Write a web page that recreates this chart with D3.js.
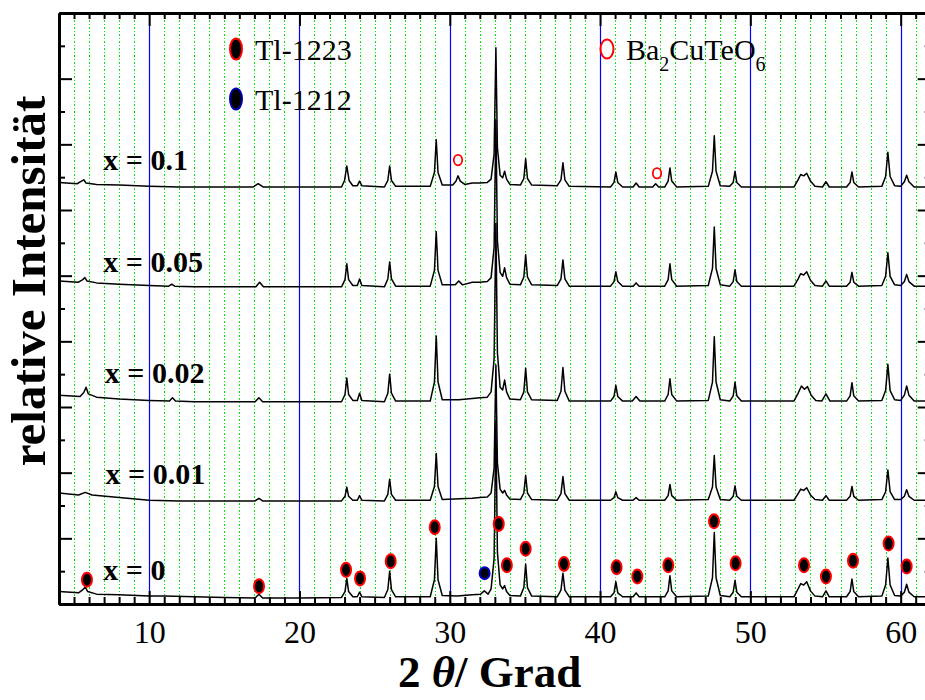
<!DOCTYPE html>
<html><head><meta charset="utf-8">
<script src="https://cdn.jsdelivr.net/npm/d3@7"></script>
<style>
body{margin:0;background:#fff}
svg{display:block}
text{font-family:"Liberation Serif","Times New Roman",Times,serif;fill:#000}
</style>
</head><body>
<svg id="chart" width="925" height="700"></svg>
<script>
// ---------------- DATA ----------------
const seriesNames   = ["x = 0", "x = 0.01", "x = 0.02", "x = 0.05", "x = 0.1"];
const seriesOffsets = [9, 157, 308, 483, 635];   // vertical stacking offset (a.u.)
const labelTheta    = [6.95, 7.1, 7.05, 6.95, 6.95];
const labelLevel    = [37, 183, 337, 506, 661];

// pattern points [2theta, intensity a.u.] relative to each series offset
const pat_x000 = [
[4.0,10],[5.3,8],[5.55,12],[5.75,17],[5.9,10],[6.5,6],[8,5],[10,3],[11,3],[15,1],[17.05,0],[17.3,6],[17.55,0],[20,0],
[22.8,1],[23.03,10],[23.15,30],[23.27,10],[23.55,2],[23.85,2],[24.0,9],[24.15,2],
[25.65,1],[25.88,13],[26.0,41],[26.12,13],[26.4,2],
[28.7,2],[28.98,28],[29.1,91],[29.22,28],[29.5,4],
[30.5,3],[31.5,5],[32.05,6],[32.3,11],[32.55,6],
[32.75,14],[32.95,60],[33.07,269],[33.17,70],[33.35,20],[33.52,14],[33.65,19],[33.78,10],[34.0,4],
[34.7,3],[34.93,16],[35.05,52],[35.17,16],[35.45,3],
[37.15,2],[37.4,12],[37.53,38],[37.66,12],[37.95,2],
[40.7,2],[40.93,8],[41.05,25],[41.18,8],[41.5,2],[42.2,2],[42.4,8],[42.6,2],
[44.3,2],[44.53,11],[44.65,34],[44.77,11],[45.1,2],
[47.2,3],[47.48,31],[47.6,100],[47.72,31],[48.0,4],
[48.63,2],[48.86,9],[48.98,27],[49.1,9],[49.4,2],
[52.9,2],[53.2,15],[53.35,22],[53.55,20],[53.75,25],[54.0,11],[54.3,3],
[54.8,2],[55.03,11],[55.25,2],
[56.4,2],[56.64,10],[56.76,29],[56.88,10],[57.2,2],
[58.75,3],[59.0,20],[59.15,61],[59.3,20],[59.6,4],
[60.0,3],[60.25,9],[60.4,21],[60.55,9],[60.9,2],[62,2]
];
const pat_x001 = [
[4.0,12],[5.3,9],[5.75,13],[6.2,9],[8,5],[10,1],[12,0],[17.05,0],[17.3,4],[17.55,0],
[22.8,0],[23.03,7],[23.15,21],[23.27,7],[23.55,1],[23.85,1],[24.0,8],[24.15,1],
[25.65,0],[25.88,10],[26.0,33],[26.12,10],[26.4,1],
[28.7,1],[28.98,22],[29.1,72],[29.22,22],[29.5,2],
[31.5,4],[32.0,5],[32.5,6],
[32.75,12],[32.95,50],[33.07,207],[33.17,58],[33.35,18],[33.52,12],[33.65,16],[33.78,9],[34.0,3],
[34.7,2],[34.93,12],[35.05,39],[35.17,12],[35.45,2],
[37.15,1],[37.4,11],[37.53,37],[37.66,11],[37.95,1],
[40.7,1],[40.93,5],[41.05,14],[41.18,5],[41.5,1],[42.2,1],[42.4,5],[42.6,1],
[44.3,1],[44.53,8],[44.65,25],[44.77,8],[45.1,1],
[47.2,2],[47.48,21],[47.6,69],[47.72,21],[48.0,2],
[48.63,1],[48.86,7],[48.98,23],[49.1,7],[49.4,1],
[52.9,1],[53.2,12],[53.35,18],[53.55,16],[53.75,20],[54.0,9],[54.3,2],
[54.8,1],[55.03,8],[55.25,1],
[56.4,1],[56.64,7],[56.76,22],[56.88,7],[57.2,1],
[58.75,2],[59.0,14],[59.15,47],[59.3,14],[59.6,2],
[60.0,2],[60.25,7],[60.4,17],[60.55,7],[60.9,1],[62,1]
];
const pat_x002 = [
[4.0,10],[5.4,8],[5.65,14],[5.8,22],[5.95,12],[6.5,7],[8,4],[10,2],[11.35,1],[11.55,6],[11.75,1],[13,0],[17.05,0],[17.3,6],[17.55,0],
[22.8,0],[23.03,11],[23.15,36],[23.27,11],[23.55,2],[23.85,2],[24.0,13],[24.15,2],
[25.65,0],[25.88,13],[26.0,42],[26.12,13],[26.4,1],
[28.7,1],[28.98,30],[29.1,100],[29.22,30],[29.5,3],
[30.6,3],[31.5,5],[32.0,6],[32.5,7],
[32.75,15],[32.95,65],[33.07,272],[33.17,75],[33.35,22],[33.52,18],[33.65,33],[33.78,15],[34.0,4],
[34.7,3],[34.93,15],[35.05,51],[35.17,15],[35.45,3],
[37.15,2],[37.4,16],[37.53,52],[37.66,16],[37.95,1],
[40.7,1],[40.93,8],[41.05,25],[41.18,8],[41.5,1],[42.15,1],[42.4,8],[42.65,1],
[44.3,1],[44.53,11],[44.65,35],[44.77,11],[45.1,1],
[47.2,2],[47.48,30],[47.6,99],[47.72,30],[48.0,3],
[48.63,1],[48.86,9],[48.98,30],[49.1,9],[49.4,1],
[52.9,1],[53.2,14],[53.4,24],[53.6,19],[53.8,23],[54.05,10],[54.35,2],
[54.75,1],[55.03,12],[55.3,1],
[56.4,1],[56.64,9],[56.76,29],[56.88,9],[57.2,1],
[58.75,2],[59.0,17],[59.15,57],[59.3,17],[59.6,3],
[60.0,2],[60.25,10],[60.4,24],[60.55,10],[60.9,1],[62,1]
];
const pat_x005 = [
[4.0,9],[5.3,7],[5.58,11],[5.72,14],[5.86,9],[6.5,6],[8,4],[10,2],[11.3,1],[11.5,4],[11.7,1],[13,0],[17.1,0],[17.35,7],[17.6,0],
[22.8,0],[23.03,11],[23.15,35],[23.27,11],[23.55,2],[23.85,2],[24.0,12],[24.15,2],
[25.65,0],[25.88,12],[26.0,38],[26.12,12],[26.4,1],
[28.7,1],[28.98,25],[29.1,84],[29.22,25],[29.5,3],
[30.35,3],[30.6,9],[30.85,3],[31.5,7],[32.0,7],[32.5,8],
[32.75,14],[32.95,60],[33.07,254],[33.17,70],[33.35,22],[33.52,16],[33.65,29],[33.78,14],[34.0,4],
[34.7,3],[34.93,15],[35.05,49],[35.17,15],[35.45,3],
[37.15,2],[37.4,12],[37.53,41],[37.66,12],[37.95,1],
[40.7,1],[40.93,8],[41.05,23],[41.18,8],[41.5,1],[42.2,1],[42.4,6],[42.6,1],
[44.3,1],[44.53,11],[44.65,35],[44.77,11],[45.1,1],
[47.2,2],[47.48,28],[47.6,91],[47.72,28],[48.0,3],
[48.63,1],[48.86,8],[48.98,26],[49.1,8],[49.4,1],
[52.9,1],[53.2,13],[53.35,20],[53.55,18],[53.75,23],[54.0,10],[54.3,2],
[54.8,1],[55.03,9],[55.25,1],
[56.4,1],[56.64,7],[56.76,22],[56.88,7],[57.2,1],
[58.75,2],[59.0,16],[59.15,52],[59.3,16],[59.6,3],
[60.0,2],[60.25,8],[60.4,19],[60.55,8],[60.9,1],[62,1]
];
const pat_x010 = [
[4.0,7],[5.2,5],[5.5,9],[5.65,11],[5.8,6],[6.5,4],[8,3],[10,1],[12,0],[16.9,0],[17.25,5],[17.6,0],
[22.8,0],[23.0,10],[23.15,32],[23.3,10],[23.55,2],[23.85,2],[24.0,9],[24.15,2],
[25.65,0],[25.88,10],[26.0,32],[26.12,10],[26.4,1],
[28.7,1],[28.98,22],[29.1,72],[29.22,22],[29.5,3],
[30.2,3],[30.42,9],[30.55,17],[30.7,9],[31.0,4],[31.5,6],[32.0,6],[32.5,7],
[32.75,12],[32.95,50],[33.07,212],[33.17,60],[33.35,18],[33.52,14],[33.65,24],[33.78,12],[34.0,4],
[34.7,3],[34.93,13],[35.05,43],[35.17,13],[35.45,3],
[37.15,2],[37.4,11],[37.53,37],[37.66,11],[37.95,1],
[40.7,0],[40.93,7],[41.05,23],[41.18,7],[41.5,0],[42.2,0],[42.4,6],[42.6,0],[43.5,0],[43.7,5],[43.9,0],
[44.3,0],[44.53,9],[44.65,29],[44.77,9],[45.1,0],
[47.2,1],[47.48,24],[47.6,78],[47.72,24],[48.0,2],
[48.63,1],[48.86,7],[48.98,24],[49.1,7],[49.4,0],
[52.9,0],[53.2,12],[53.35,19],[53.55,17],[53.75,21],[54.0,9],[54.3,1],
[54.8,0],[55.03,8],[55.25,0],
[56.4,0],[56.64,7],[56.76,23],[56.88,7],[57.2,0],
[58.75,1],[59.0,16],[59.15,53],[59.3,16],[59.6,2],
[60.0,1],[60.25,8],[60.4,18],[60.55,8],[60.9,0],[62,0]
];
const patterns = [pat_x000, pat_x001, pat_x002, pat_x005, pat_x010];

// phase markers [2theta, intensity a.u. absolute]
const tl1223Marks = [[5.86,37],[17.31,27],[23.1,52],[24.03,39],[26.07,65],[29.0,117],[33.26,122],[33.8,59],[35.05,84],[37.6,61],
  [41.1,56],[42.48,42],[44.54,59],[47.58,126],[49.02,62],[53.57,59],[55.03,42],[56.83,66],[59.2,92],[60.4,57]];
const tl1212Marks = [[32.32,47]];
const baCuTeMarks = [[30.55,676],[43.79,656]];

const thetaMajor = [10, 20, 30, 40, 50, 60];
const thetaLabels = ["10", "20", "30", "40", "50", "60"];
const intensityMajor = [0,100,200,300,400,500,600,700,800,900];
const intensityMinor = [50,150,250,350,450,550,650,750,850];

// ---------------- LAYOUT ----------------
const svg = d3.select("#chart");
const X0 = 59, X1 = 930.7, Y0 = 604, Y1 = 13;
const x = d3.scaleLinear().domain([4, 62]).range([X0, X1]);
const y = d3.scaleLinear().domain([0, 900]).range([Y0, Y1]);
const thetaMinor = d3.range(5, 62).filter(v => v % 10 !== 0);
const px = v => Math.round(x(v)) + 0.5;

svg.append("defs").append("clipPath").attr("id","clip")
  .append("rect").attr("x",X0).attr("y",Y1).attr("width",X1-X0).attr("height",Y0-Y1);

// grid
const grid = svg.append("g");
grid.selectAll("line.minor").data(thetaMinor).join("line")
  .attr("x1", d => px(d)).attr("x2", d => px(d)).attr("y1", Y1).attr("y2", Y0)
  .attr("stroke", "#00ee00").attr("stroke-width", 1).attr("stroke-dasharray", "1.5,2")
  .attr("shape-rendering","crispEdges");
grid.selectAll("line.major").data(thetaMajor).join("line")
  .attr("x1", d => px(d)).attr("x2", d => px(d)).attr("y1", Y1).attr("y2", Y0)
  .attr("stroke", "#0000ff").attr("stroke-width", 1.2);

// curves
const line = d3.line().x(d => x(d[0])).y(d => y(d[1]));
const curves = svg.append("g").attr("clip-path","url(#clip)");
patterns.forEach((p, i) => {
  curves.append("path")
    .datum(p.map(d => [d[0], d[1] + seriesOffsets[i]]))
    .attr("d", line).attr("fill","none").attr("stroke","#000")
    .attr("stroke-width",1.5).attr("stroke-linejoin","round");
});

// axes
function styleAxis(g, dw){
  g.select(".domain").attr("stroke","#000").attr("stroke-width",dw);
  g.selectAll(".tick line").attr("stroke","#000").attr("stroke-width",2);
  g.attr("font-family",null).attr("font-size",null);
}
// bottom
svg.append("g").attr("transform",`translate(0,${Y0})`)
  .call(d3.axisBottom(x).tickValues(thetaMinor).tickSize(-7).tickSizeOuter(0).tickFormat(""))
  .call(g => styleAxis(g,3));
const bAx = svg.append("g").attr("transform",`translate(0,${Y0})`)
  .call(d3.axisBottom(x).tickValues(thetaMajor).tickSize(-13).tickSizeOuter(0)
    .tickFormat((d,i) => thetaLabels[i]))
  .call(g => styleAxis(g,3));
bAx.selectAll(".tick text").attr("y",39).attr("dy",null).style("font-size","32px")
  .style("font-family",'"Liberation Serif","Times New Roman",serif').attr("fill","#000");
// top
svg.append("g").attr("transform",`translate(0,${Y1})`)
  .call(d3.axisTop(x).tickValues(thetaMinor).tickSize(-6).tickSizeOuter(0).tickFormat(""))
  .call(g => styleAxis(g,3));
svg.append("g").attr("transform",`translate(0,${Y1})`)
  .call(d3.axisTop(x).tickValues(thetaMajor).tickSize(-13).tickSizeOuter(0).tickFormat(""))
  .call(g => styleAxis(g,3));
// left
svg.append("g").attr("transform",`translate(${X0},0)`)
  .call(d3.axisLeft(y).tickValues(intensityMinor).tickSize(-6).tickSizeOuter(0).tickFormat(""))
  .call(g => styleAxis(g,3));
svg.append("g").attr("transform",`translate(${X0},0)`)
  .call(d3.axisLeft(y).tickValues(intensityMajor).tickSize(-13).tickSizeOuter(0).tickFormat(""))
  .call(g => styleAxis(g,3));
// right
svg.append("g").attr("transform",`translate(${X1},0)`)
  .call(d3.axisRight(y).tickValues(intensityMinor).tickSize(-6).tickSizeOuter(0).tickFormat(""))
  .call(g => styleAxis(g,3));
svg.append("g").attr("transform",`translate(${X1},0)`)
  .call(d3.axisRight(y).tickValues(intensityMajor).tickSize(-13).tickSizeOuter(0).tickFormat(""))
  .call(g => styleAxis(g,3));

// markers
const mk = svg.append("g");
mk.selectAll("ellipse.t23").data(tl1223Marks).join("ellipse")
  .attr("cx", d => x(d[0])).attr("cy", d => y(d[1])).attr("rx",5).attr("ry",7)
  .attr("fill","#000").attr("stroke","#ff0000").attr("stroke-width",2);
mk.selectAll("ellipse.t12").data(tl1212Marks).join("ellipse")
  .attr("cx", d => x(d[0])).attr("cy", d => y(d[1])).attr("rx",5).attr("ry",6)
  .attr("fill","#000").attr("stroke","#0000cc").attr("stroke-width",2);
mk.selectAll("ellipse.bc").data(baCuTeMarks).join("ellipse")
  .attr("cx", d => x(d[0])).attr("cy", d => y(d[1])).attr("rx",4.2).attr("ry",5.2)
  .attr("fill","none").attr("stroke","#ff0000").attr("stroke-width",1.8);

// series labels
seriesNames.forEach((n,i) => {
  svg.append("text").attr("x", x(labelTheta[i])).attr("y", y(labelLevel[i]))
    .style("font-size","30px").style("font-weight","bold").text(n);
});

// legend
const lg = svg.append("g");
lg.append("ellipse").attr("cx",236).attr("cy",49).attr("rx",6).attr("ry",10.5)
  .attr("fill","#000").attr("stroke","#ff0000").attr("stroke-width",2);
lg.append("text").attr("x",255).attr("y",60).style("font-size","30px").text("Tl-1223");
lg.append("ellipse").attr("cx",236).attr("cy",99).attr("rx",6).attr("ry",10.5)
  .attr("fill","#000").attr("stroke","#0000aa").attr("stroke-width",2);
lg.append("text").attr("x",255).attr("y",110).style("font-size","30px").text("Tl-1212");
lg.append("ellipse").attr("cx",607).attr("cy",49).attr("rx",6.5).attr("ry",9.5)
  .attr("fill","none").attr("stroke","#ff0000").attr("stroke-width",2);
const bt = lg.append("text").attr("x",626).attr("y",60).style("font-size","30px");
bt.append("tspan").text("Ba");
bt.append("tspan").attr("dy",11).style("font-size","20px").text("2");
bt.append("tspan").attr("dy",-11).text("CuTeO");
bt.append("tspan").attr("dy",11).style("font-size","20px").text("6");

// axis titles
const xt = svg.append("text").attr("x",398).attr("y",687)
  .style("font-size","45px").style("font-weight","bold");
xt.append("tspan").text("2 ");
xt.append("tspan").style("font-style","italic").text("θ");
xt.append("tspan").text("/ Grad");

svg.append("text").attr("transform","translate(45,281) rotate(-90)")
  .attr("text-anchor","middle").style("font-size","49px").style("font-weight","bold")
  .text("relative Intensität");
</script>
</body></html>
